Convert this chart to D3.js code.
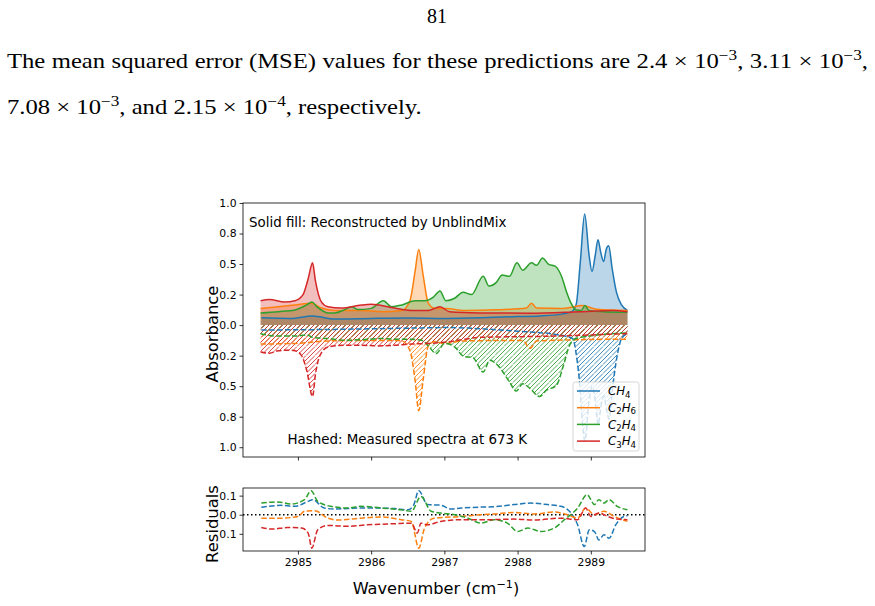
<!DOCTYPE html>
<html><head><meta charset="utf-8">
<script src="https://cdn.jsdelivr.net/npm/d3@7/dist/d3.min.js"></script>
<style>html,body{margin:0;padding:0;background:#fff}</style>
</head><body>
<svg id="c" width="875" height="606"></svg>
<script>
// ---------------- DATA ----------------
const species = ["CH4", "C2H6", "C2H4", "C3H4"];
const speciesSub = [["CH", "4"], ["C", "2", "H", "6"], ["C", "2", "H", "4"], ["C", "3", "H", "4"]];
const colors = ["#1f77b4", "#ff7f0e", "#2ca02c", "#d62728"];
const xTickValues = [2985, 2986, 2987, 2988, 2989];
const xTickLabels = ["2985", "2986", "2987", "2988", "2989"];
const absTickValues = [1, 0.75, 0.5, 0.25, 0, -0.25, -0.5, -0.75, -1];
const absTickLabels = ["1.0", "0.8", "0.5", "0.2", "0.0", "0.2", "0.5", "0.8", "1.0"];
const resTickValues = [0.1, 0, -0.1];
const resTickLabels = ["0.1", "0.0", "0.1"];

// Reconstructed spectra (solid fill, above zero)
const ch4RecWn  = [2984.5, 2984.9, 2985.2, 2985.5, 2986.0, 2986.5, 2987.0, 2987.5, 2988.0, 2988.3, 2988.6, 2988.74, 2988.80, 2988.857, 2988.916, 2988.975, 2989.016, 2989.06, 2989.098, 2989.134, 2989.175, 2989.21, 2989.244, 2989.29, 2989.35, 2989.42, 2989.5];
const ch4RecAbs = [0.06, 0.055, 0.075, 0.05, 0.055, 0.058, 0.055, 0.06, 0.07, 0.075, 0.09, 0.11, 0.17, 0.52, 0.91, 0.58, 0.44, 0.57, 0.70, 0.60, 0.52, 0.62, 0.65, 0.47, 0.27, 0.165, 0.12];
const c2h6RecWn  = [2984.49, 2984.73, 2984.96, 2985.19, 2985.32, 2985.505, 2985.87, 2986.14, 2986.42, 2986.53, 2986.60, 2986.65, 2986.71, 2986.78, 2986.87, 2987.03, 2987.26, 2987.71, 2988.12, 2988.19, 2988.26, 2988.62, 2988.89, 2989.08, 2989.5];
const c2h6RecAbs = [0.137, 0.15, 0.165, 0.18, 0.14, 0.12, 0.12, 0.11, 0.12, 0.2, 0.44, 0.62, 0.41, 0.18, 0.137, 0.137, 0.12, 0.125, 0.14, 0.18, 0.14, 0.137, 0.16, 0.13, 0.12];
const c2h4RecWn  = [2984.49, 2984.73, 2984.96, 2985.12, 2985.19, 2985.26, 2985.41, 2985.505, 2985.64, 2985.73, 2985.82, 2986.0, 2986.165, 2986.28, 2986.42, 2986.60, 2986.73, 2986.85, 2986.94, 2987.02, 2987.14, 2987.255, 2987.37, 2987.53, 2987.61, 2987.71, 2987.79, 2987.89, 2987.99, 2988.07, 2988.19, 2988.26, 2988.34, 2988.42, 2988.52, 2988.60, 2988.67, 2988.73, 2988.80, 2988.87, 2988.92, 2988.975, 2989.17, 2989.5];
const c2h4RecAbs = [0.10, 0.11, 0.124, 0.165, 0.19, 0.15, 0.10, 0.10, 0.127, 0.15, 0.127, 0.137, 0.20, 0.15, 0.165, 0.20, 0.20, 0.23, 0.28, 0.20, 0.22, 0.27, 0.25, 0.40, 0.32, 0.35, 0.41, 0.40, 0.51, 0.45, 0.51, 0.49, 0.55, 0.50, 0.48, 0.40, 0.27, 0.18, 0.124, 0.12, 0.16, 0.12, 0.11, 0.105];
const c3h4RecWn  = [2984.49, 2984.61, 2984.82, 2984.96, 2985.07, 2985.14, 2985.20, 2985.24, 2985.32, 2985.41, 2985.59, 2985.87, 2986.0, 2986.32, 2986.55, 2986.78, 2986.94, 2987.07, 2987.48, 2988.17, 2988.85, 2989.30, 2989.5];
const c3h4RecAbs = [0.20, 0.21, 0.19, 0.20, 0.25, 0.38, 0.51, 0.36, 0.19, 0.15, 0.14, 0.165, 0.17, 0.14, 0.12, 0.12, 0.15, 0.11, 0.10, 0.097, 0.11, 0.12, 0.11];

// Measured spectra (hatched, drawn below zero)
const ch4MeasWn  = [2984.5, 2985.5, 2986.0, 2986.5, 2987.0, 2987.5, 2988.0, 2988.5, 2988.75, 2988.83, 2988.92, 2988.97, 2989.02, 2989.06, 2989.10, 2989.14, 2989.18, 2989.21, 2989.25, 2989.30, 2989.36, 2989.42, 2989.5];
const ch4MeasAbs = [0.04, 0.035, 0.03, 0.025, 0.02, 0.03, 0.05, 0.075, 0.11, 0.37, 0.95, 0.65, 0.50, 0.62, 0.82, 0.66, 0.58, 0.68, 0.77, 0.50, 0.25, 0.11, 0.07];
const c2h6MeasWn  = [2984.49, 2984.96, 2985.41, 2985.87, 2986.32, 2986.42, 2986.53, 2986.60, 2986.65, 2986.71, 2986.78, 2986.87, 2987.0, 2987.26, 2988.07, 2988.17, 2988.26, 2988.8, 2989.5];
const c2h6MeasAbs = [0.155, 0.15, 0.13, 0.125, 0.125, 0.13, 0.21, 0.45, 0.70, 0.45, 0.17, 0.135, 0.15, 0.13, 0.125, 0.19, 0.13, 0.12, 0.115];
const c2h4MeasWn  = [2984.49, 2984.73, 2984.96, 2985.12, 2985.2, 2985.41, 2985.64, 2985.87, 2986.14, 2986.32, 2986.51, 2986.69, 2986.78, 2986.89, 2987.0, 2987.14, 2987.26, 2987.39, 2987.53, 2987.62, 2987.73, 2987.89, 2987.98, 2988.07, 2988.17, 2988.30, 2988.39, 2988.53, 2988.62, 2988.71, 2988.80, 2988.98, 2989.5];
const c2h4MeasAbs = [0.07, 0.09, 0.09, 0.08, 0.10, 0.11, 0.124, 0.12, 0.11, 0.115, 0.115, 0.124, 0.17, 0.233, 0.15, 0.178, 0.255, 0.266, 0.384, 0.288, 0.33, 0.466, 0.54, 0.48, 0.52, 0.585, 0.535, 0.494, 0.343, 0.165, 0.11, 0.09, 0.063];
const c3h4MeasWn  = [2984.49, 2984.61, 2984.73, 2984.87, 2984.96, 2985.05, 2985.12, 2985.20, 2985.24, 2985.30, 2985.41, 2985.64, 2985.87, 2986.1, 2986.32, 2986.55, 2986.78, 2987.0, 2987.5, 2988.0, 2988.5, 2989.0, 2989.5];
const c3h4MeasAbs = [0.22, 0.23, 0.21, 0.205, 0.21, 0.25, 0.37, 0.585, 0.40, 0.25, 0.18, 0.165, 0.165, 0.17, 0.165, 0.155, 0.15, 0.14, 0.10, 0.095, 0.09, 0.08, 0.07];

// Residuals
const ch4ResWn = [2984.5, 2984.77, 2984.95, 2985.14, 2985.20, 2985.36, 2985.5, 2985.86, 2986.05, 2986.32, 2986.5, 2986.58, 2986.65, 2986.77, 2986.95, 2987.09, 2987.23, 2987.5, 2987.68, 2987.95, 2988.18, 2988.41, 2988.59, 2988.73, 2988.82, 2988.91, 2988.98, 2989.05, 2989.11, 2989.18, 2989.25, 2989.34, 2989.45, 2989.5];
const ch4Res   = [0.039, 0.049, 0.044, 0.07, 0.079, 0.035, 0.03, 0.035, 0.035, 0.032, 0.026, 0.05, 0.126, 0.053, 0.05, 0.03, 0.035, 0.04, 0.042, 0.053, 0.061, 0.053, 0.044, 0.009, -0.053, -0.167, -0.079, -0.088, -0.132, -0.105, -0.123, -0.053, -0.009, -0.005];
const c2h6ResWn = [2984.5, 2984.77, 2985.0, 2985.09, 2985.23, 2985.41, 2985.55, 2985.86, 2986.14, 2986.41, 2986.55, 2986.65, 2986.73, 2986.86, 2987.23, 2987.5, 2987.68, 2987.95, 2988.23, 2988.5, 2988.68, 2988.82, 2988.93, 2989.05, 2989.18, 2989.32, 2989.5];
const c2h6Res   = [-0.018, -0.018, -0.009, 0.018, 0.021, -0.018, -0.028, -0.018, -0.012, -0.026, -0.035, -0.175, -0.07, -0.018, -0.009, 0.0, 0.004, 0.012, 0.004, 0.014, 0.0, -0.018, 0.035, 0.0, 0.018, -0.009, -0.035];
const c2h4ResWn = [2984.5, 2984.73, 2984.91, 2985.09, 2985.18, 2985.27, 2985.45, 2985.68, 2985.86, 2986.14, 2986.41, 2986.55, 2986.68, 2986.82, 2986.95, 2987.14, 2987.32, 2987.5, 2987.68, 2987.86, 2988.0, 2988.14, 2988.32, 2988.5, 2988.64, 2988.82, 2988.95, 2989.05, 2989.11, 2989.18, 2989.25, 2989.36, 2989.5];
const c2h4Res   = [0.061, 0.067, 0.056, 0.079, 0.126, 0.07, 0.044, 0.035, 0.044, 0.035, 0.026, 0.018, 0.096, 0.018, 0.009, 0.0, -0.018, -0.044, -0.026, -0.044, -0.088, -0.07, -0.088, -0.07, -0.026, 0.035, 0.105, 0.053, 0.079, 0.061, 0.079, 0.044, 0.026];
const c3h4ResWn = [2984.5, 2984.64, 2984.86, 2985.05, 2985.14, 2985.19, 2985.27, 2985.41, 2985.68, 2985.95, 2986.32, 2986.55, 2986.63, 2986.68, 2986.77, 2986.95, 2987.23, 2987.59, 2987.95, 2988.23, 2988.59, 2988.82, 2988.93, 2989.0, 2989.11, 2989.23, 2989.36, 2989.5];
const c3h4Res   = [-0.067, -0.075, -0.067, -0.07, -0.096, -0.175, -0.079, -0.056, -0.061, -0.053, -0.047, -0.044, -0.096, -0.044, -0.053, -0.035, -0.026, -0.026, -0.023, -0.028, -0.018, -0.026, 0.035, -0.009, 0.009, -0.009, -0.023, -0.026];

// Page text
const pageNumber = "81";
const line1Tokens = [{t: "The mean squared error (MSE) values for these predictions are 2.4 × 10"}, {t: "−3", sup: true}, {t: ", 3.11 × 10"}, {t: "−3", sup: true}, {t: ","}];
const line2Tokens = [{t: "7.08 × 10"}, {t: "−3", sup: true}, {t: ", and 2.15 × 10"}, {t: "−4", sup: true}, {t: ", respectively."}];
const topNote = "Solid fill: Reconstructed by UnblindMix";
const bottomNote = "Hashed: Measured spectra at 673 K";

// ---------------- DRAW ----------------
const svg = d3.select("#c");
const SANS = "DejaVu Sans, sans-serif";
const SERIF = "Liberation Serif, Times New Roman, serif";

const recWn = [ch4RecWn, c2h6RecWn, c2h4RecWn, c3h4RecWn];
const recAbs = [ch4RecAbs, c2h6RecAbs, c2h4RecAbs, c3h4RecAbs];
const measWn = [ch4MeasWn, c2h6MeasWn, c2h4MeasWn, c3h4MeasWn];
const measAbs = [ch4MeasAbs, c2h6MeasAbs, c2h4MeasAbs, c3h4MeasAbs];
const resWn = [ch4ResWn, c2h6ResWn, c2h4ResWn, c3h4ResWn];
const resVal = [ch4Res, c2h6Res, c2h4Res, c3h4Res];

const series = species.map((s, i) => ({
  name: s, color: colors[i],
  rec: d3.zip(recWn[i], recAbs[i]),
  meas: d3.zip(measWn[i], measAbs[i]),
  res: d3.zip(resWn[i], resVal[i])
}));

const L = 243, R = 645;
const mainT = 203, mainB = 457;
const resT = 488, resB = 551;

const x = d3.scaleLinear().domain([2984.25, 2989.74]).range([L, R]);
const y = d3.scaleLinear().domain([-1.08, 1.0]).range([mainB, mainT]);
const yr = d3.scaleLinear().domain([-0.19, 0.14]).range([resB, resT]);

const defs = svg.append("defs");
defs.append("clipPath").attr("id", "clipMain").append("rect")
  .attr("x", L).attr("y", mainT).attr("width", R - L).attr("height", mainB - mainT);
defs.append("clipPath").attr("id", "clipRes").append("rect")
  .attr("x", L).attr("y", resT).attr("width", R - L).attr("height", resB - resT);

// hatch patterns
series.forEach((s, i) => {
  const p = defs.append("pattern").attr("id", "hatch" + i)
    .attr("patternUnits", "userSpaceOnUse").attr("width", 9).attr("height", 9);
  p.append("path")
    .attr("d", "M-1,1L1,-1M0,4.5L4.5,0M0,9L9,0M4.5,9L9,4.5M8,10L10,8")
    .attr("stroke", s.color).attr("stroke-width", 1).attr("fill", "none");
});

const curve = d3.curveMonotoneX;
const gMain = svg.append("g").attr("clip-path", "url(#clipMain)");

series.forEach((s, i) => {
  gMain.append("path").datum(s.rec)
    .attr("d", d3.area().curve(curve).x(d => x(d[0])).y0(y(0)).y1(d => y(d[1])))
    .attr("fill", s.color).attr("fill-opacity", 0.3);
});
series.forEach((s, i) => {
  gMain.append("path").datum(s.meas)
    .attr("d", d3.area().curve(curve).x(d => x(d[0])).y0(y(0)).y1(d => y(-d[1])))
    .attr("fill", "url(#hatch" + i + ")").attr("opacity", 0.85);
});
series.forEach((s, i) => {
  gMain.append("path").datum(s.rec)
    .attr("d", d3.line().curve(curve).x(d => x(d[0])).y(d => y(d[1])))
    .attr("fill", "none").attr("stroke", s.color).attr("stroke-width", 1.5);
  gMain.append("path").datum(s.meas)
    .attr("d", d3.line().curve(curve).x(d => x(d[0])).y(d => y(-d[1])))
    .attr("fill", "none").attr("stroke", s.color).attr("stroke-width", 1.5)
    .attr("stroke-dasharray", "5.5,2.4");
});

// axes main
function styleAxis(g) {
  g.selectAll("path.domain").remove();
  g.selectAll("line").attr("stroke", "#000").attr("stroke-width", 0.8);
  g.selectAll("text").attr("font-family", SANS).attr("font-size", 10.8).attr("fill", "#000");
}
svg.append("g").attr("transform", `translate(0,${mainB})`)
  .call(d3.axisBottom(x).tickValues(xTickValues).tickFormat("").tickSize(3.5))
  .call(styleAxis);
svg.append("g").attr("transform", `translate(${L},0)`)
  .call(d3.axisLeft(y).tickValues(absTickValues).tickFormat((d, i) => absTickLabels[i]).tickSize(3.5).tickPadding(3))
  .call(styleAxis);
svg.append("rect").attr("x", L).attr("y", mainT).attr("width", R - L).attr("height", mainB - mainT)
  .attr("fill", "none").attr("stroke", "#000").attr("stroke-width", 0.8);

// notes
svg.append("text").attr("x", 249).attr("y", 226.5).attr("font-family", SANS).attr("font-size", 13.4)
  .attr("fill", "#000").text(topNote);
svg.append("text").attr("x", 287.5).attr("y", 444).attr("font-family", SANS).attr("font-size", 13.4)
  .attr("fill", "#000").text(bottomNote);

// legend
const lgX = 573, lgY = 382, lgW = 66, lgH = 69;
svg.append("rect").attr("x", lgX).attr("y", lgY).attr("width", lgW).attr("height", lgH)
  .attr("rx", 2.5).attr("fill", "#fff").attr("fill-opacity", 0.8).attr("stroke", "#cccccc").attr("stroke-width", 0.8);
series.forEach((s, i) => {
  const cy = lgY + 9 + i * 16.7;
  svg.append("line").attr("x1", lgX + 4).attr("x2", lgX + 27).attr("y1", cy).attr("y2", cy)
    .attr("stroke", s.color).attr("stroke-width", 1.5);
  const t = svg.append("text").attr("x", lgX + 35).attr("y", cy + 4.2)
    .attr("font-family", SANS).attr("font-size", 11.8).attr("fill", "#000");
  speciesSub[i].forEach((part, k) => {
    const isSub = k % 2 === 1;
    const ts = t.append("tspan").text(part);
    if (isSub) ts.attr("font-size", 8.6).attr("dy", 2.5);
    else { ts.attr("font-style", "italic"); if (k > 0) ts.attr("dy", -2.5); }
  });
});

// residual panel
const gRes = svg.append("g").attr("clip-path", "url(#clipRes)");
gRes.append("line").attr("x1", L).attr("x2", R).attr("y1", yr(0)).attr("y2", yr(0))
  .attr("stroke", "#000").attr("stroke-width", 1.5).attr("stroke-dasharray", "1.5,2.5");
series.forEach(s => {
  gRes.append("path").datum(s.res)
    .attr("d", d3.line().curve(curve).x(d => x(d[0])).y(d => yr(d[1])))
    .attr("fill", "none").attr("stroke", s.color).attr("stroke-width", 1.5)
    .attr("stroke-dasharray", "5.5,2.4");
});
svg.append("g").attr("transform", `translate(0,${resB})`)
  .call(d3.axisBottom(x).tickValues(xTickValues).tickFormat((d, i) => xTickLabels[i]).tickSize(3.5).tickPadding(3.5))
  .call(styleAxis);
svg.append("g").attr("transform", `translate(${L},0)`)
  .call(d3.axisLeft(yr).tickValues(resTickValues).tickFormat((d, i) => resTickLabels[i]).tickSize(3.5).tickPadding(3))
  .call(styleAxis);
svg.append("rect").attr("x", L).attr("y", resT).attr("width", R - L).attr("height", resB - resT)
  .attr("fill", "none").attr("stroke", "#000").attr("stroke-width", 0.8);

// axis labels
svg.append("text").attr("transform", `translate(218,334) rotate(-90)`)
  .attr("text-anchor", "middle").attr("font-family", SANS).attr("font-size", 16.4).text("Absorbance");
svg.append("text").attr("transform", `translate(218,524) rotate(-90)`)
  .attr("text-anchor", "middle").attr("font-family", SANS).attr("font-size", 16.4).text("Residuals");
const xl = svg.append("text").attr("x", 436).attr("y", 594).attr("text-anchor", "middle")
  .attr("font-family", SANS).attr("font-size", 16.2);
xl.append("tspan").text("Wavenumber (cm");
xl.append("tspan").attr("font-size", 11.3).attr("dy", -6.5).text("−1");
xl.append("tspan").attr("dy", 6.5).text(")");

// page text
svg.append("text").attr("x", 437).attr("y", 23).attr("text-anchor", "middle")
  .attr("font-family", SERIF).attr("font-size", 20).text(pageNumber);

function makeLine(tokens, x0, y0) {
  const t = svg.append("text").attr("x", x0).attr("y", y0)
    .attr("font-family", SERIF).attr("font-size", 20).attr("fill", "#000");
  let prevSup = false;
  tokens.forEach(tok => {
    const ts = t.append("tspan").text(tok.t);
    if (tok.sup) { ts.attr("font-size", 14).attr("dy", -8); prevSup = true; }
    else if (prevSup) { ts.attr("dy", 8); prevSup = false; }
  });
  return t;
}
const t1 = makeLine(line1Tokens, 7, 68);
const t2 = makeLine(line2Tokens, 7, 114);
const spaces = tokens => tokens.map(d => d.t).join("").split(" ").length - 1;
// widen glyphs horizontally to mimic the wider Computer Modern face
const nat2 = t2.node().getComputedTextLength();
const r = 415 / nat2;
const tf = `translate(7,0) scale(${r},1) translate(-7,0)`;
t2.attr("transform", tf);
t1.attr("transform", tf);
const nat1 = t1.node().getComputedTextLength();
t1.attr("word-spacing", (861 / r - nat1) / spaces(line1Tokens));
</script>
</body></html>
